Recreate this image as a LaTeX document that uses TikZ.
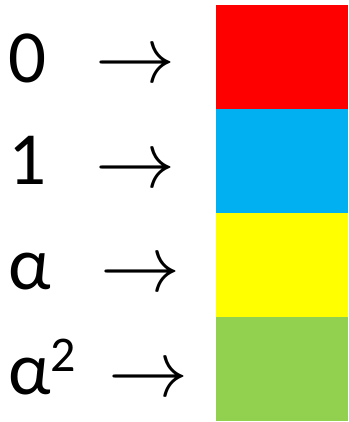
\documentclass[tikz,border=0pt]{standalone}
\usepackage{fontspec}
\usepackage{graphicx}
\setmainfont{Carlito}
\definecolor{cRed}{HTML}{FF0000}
\definecolor{cBlue}{HTML}{00B0F0}
\definecolor{cYellow}{HTML}{FFFF00}
\definecolor{cGreen}{HTML}{92D050}
\newcommand{\maparrow}{\scalebox{8}{$\rightarrow$}}
\begin{document}
\begin{tikzpicture}[x=1pt, y=1pt,
  cell/.style={draw=none, inner sep=0pt, minimum width=132pt, minimum height=104pt, anchor=north west},
  lbl/.style={inner sep=0pt, anchor=base west, font=\fontsize{75}{75}\selectfont},
  arr/.style={inner sep=0pt, anchor=base}]

  \useasboundingbox (0, 0) rectangle (348, 422);

  % --- 1. 色のセル ---
  \node[cell, fill=cRed]    (c0) at (216, 417) {};
  \node[cell, fill=cBlue]   (c1) at (216, 313) {};
  \node[cell, fill=cYellow] (ca) at (216, 209) {};
  \node[cell, fill=cGreen]  (cb) at (216, 105) {};

  % --- 2. 元のラベル ---
  \node[lbl] (l0) at (8, 339) {0};
  \node[lbl] (l1) at (8, 237) {1};
  \node[lbl] (la) at (8, 132) {α};
  \node[lbl] (lb) at (8, 27)  {α\raisebox{23pt}{\fontsize{50}{50}\selectfont 2}};

  % --- 3. 矢印 ---
  \node[arr] (a0) at (135, 339) {\maparrow};
  \node[arr] (a1) at (135.5, 234) {\maparrow};
  \node[arr] (aa) at (140.5, 130) {\maparrow};
  \node[arr] (ab) at (148.5, 25)  {\maparrow};

\end{tikzpicture}
\end{document}
